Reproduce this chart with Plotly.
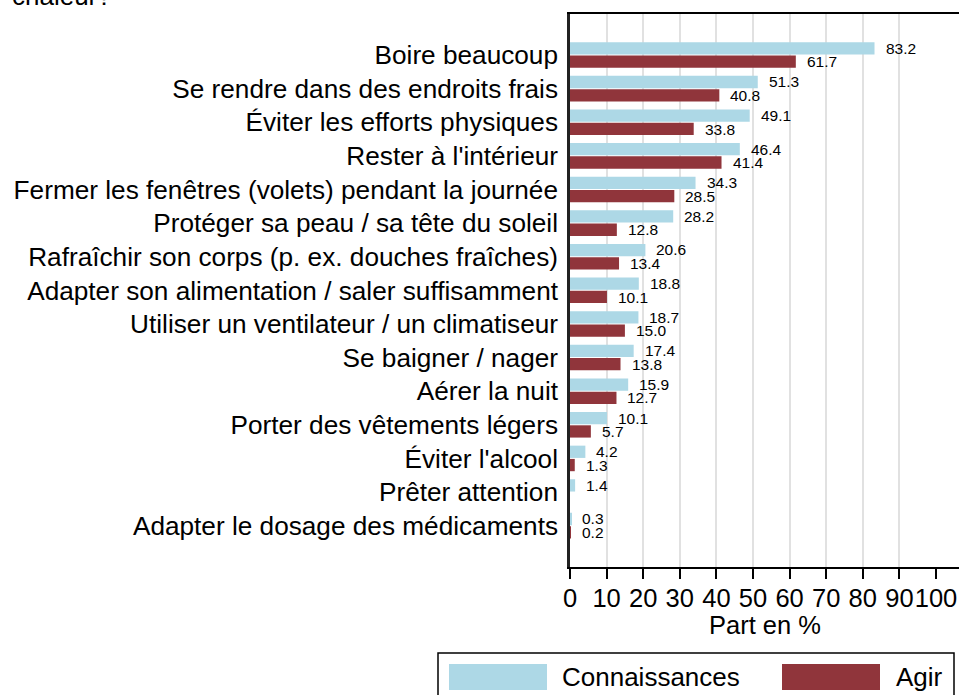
import plotly.graph_objects as go

categories = [
    "Boire beaucoup",
    "Se rendre dans des endroits frais",
    "Éviter les efforts physiques",
    "Rester à l'intérieur",
    "Fermer les fenêtres (volets) pendant la journée",
    "Protéger sa peau / sa tête du soleil",
    "Rafraîchir son corps (p. ex. douches fraîches)",
    "Adapter son alimentation / saler suffisamment",
    "Utiliser un ventilateur / un climatiseur",
    "Se baigner / nager",
    "Aérer la nuit",
    "Porter des vêtements légers",
    "Éviter l'alcool",
    "Prêter attention",
    "Adapter le dosage des médicaments",
]
connaissances = [83.2, 51.3, 49.1, 46.4, 34.3, 28.2, 20.6, 18.8, 18.7, 17.4, 15.9, 10.1, 4.2, 1.4, 0.3]
agir = [61.7, 40.8, 33.8, 41.4, 28.5, 12.8, 13.4, 10.1, 15.0, 13.8, 12.7, 5.7, 1.3, None, 0.2]
series_names = ["Connaissances", "Agir"]
x_ticks = [0, 10, 20, 30, 40, 50, 60, 70, 80, 90, 100]
grid_vals = [10, 20, 30, 40, 50, 60, 70, 80, 90]
x_title = "Part en %"
title_tail = "chaleur?"

C_BLUE = "#ADD8E6"
C_RED = "#90353B"
FONT = "Arial, Liberation Sans, sans-serif"

W, H = 959, 695
L, R, T, B = 570, 0, 14, 128
PW, PH = W - L - R, H - T - B


def px_x(px):
    return (px - L) / PW


def px_y(py):
    return (H - B - py) / PH


fig = go.Figure()
fig.add_trace(go.Bar(name=series_names[0], y=categories, x=connaissances, orientation="h",
                     marker=dict(color=C_BLUE, line=dict(width=0)), showlegend=False))
fig.add_trace(go.Bar(name=series_names[1], y=categories, x=agir, orientation="h",
                     marker=dict(color=C_RED, line=dict(width=0)), showlegend=False))

annotations = []
for vals, ysh in ((connaissances, 6.8), (agir, -6.8)):
    for cat, v in zip(categories, vals):
        if v is None:
            continue
        annotations.append(dict(x=v, y=cat, xref="x", yref="y", text=f"{v:.1f}",
                                showarrow=False, xanchor="left", yanchor="middle",
                                xshift=9, yshift=ysh,
                                font=dict(family=FONT, size=15.5, color="black")))

# title tail (cut off at top as in reference)
annotations.append(dict(x=px_x(10), y=px_y(13), xref="paper", yref="paper", text=title_tail,
                        showarrow=False, xanchor="left", yanchor="bottom",
                        font=dict(family=FONT, size=26, color="black")))

# x axis title
annotations.append(dict(x=0.5, y=px_y(625), xref="paper", yref="paper", text=x_title,
                        showarrow=False, xanchor="center", yanchor="middle",
                        font=dict(family=FONT, size=25.5, color="black")))

# manual legend
shapes = [
    dict(type="rect", xref="paper", yref="paper", x0=px_x(438), x1=px_x(954), y0=px_y(653), y1=px_y(710),
         line=dict(color="black", width=1.5), fillcolor="white", layer="above"),
    dict(type="rect", xref="paper", yref="paper", x0=px_x(449), x1=px_x(547), y0=px_y(664), y1=px_y(690),
         line=dict(width=0), fillcolor=C_BLUE, layer="above"),
    dict(type="rect", xref="paper", yref="paper", x0=px_x(782), x1=px_x(880), y0=px_y(664), y1=px_y(690),
         line=dict(width=0), fillcolor=C_RED, layer="above"),
]
annotations.append(dict(x=px_x(560), y=px_y(677), xref="paper", yref="paper", text=series_names[0],
                        showarrow=False, xanchor="left", yanchor="middle",
                        font=dict(family=FONT, size=26, color="black")))
annotations.append(dict(x=px_x(894), y=px_y(677), xref="paper", yref="paper", text=series_names[1],
                        showarrow=False, xanchor="left", yanchor="middle",
                        font=dict(family=FONT, size=26, color="black")))

n = len(categories)
fig.update_layout(
    width=W, height=H,
    margin=dict(l=L, r=R, t=T, b=B, pad=0),
    paper_bgcolor="white", plot_bgcolor="white",
    barmode="group", bargap=0.21, bargroupgap=0.075,
    font=dict(family=FONT, size=26, color="black"),
    annotations=annotations, shapes=shapes,
    xaxis=dict(range=[0, PW / 3.66], tickmode="array", tickvals=x_ticks,
               ticktext=[str(t) for t in x_ticks], showgrid=False, zeroline=False,
               showline=True, linecolor="black", linewidth=2, mirror=True,
               ticks="outside", ticklen=10, tickwidth=1.5, tickcolor="black",
               tickangle=0, automargin=False, tickfont=dict(size=25.5), ticklabelstandoff=-3,
               minor=dict(tickmode="array", tickvals=grid_vals, showgrid=True,
                          gridcolor="#E1E1E1", gridwidth=2, ticklen=0)),
    yaxis=dict(range=[n - 1 + 1.23, -1.22], showgrid=False, zeroline=False,
               showline=True, linecolor="#222222", linewidth=2.5, mirror=False,
               ticks="", ticklabelstandoff=4, automargin=False, tickfont=dict(size=26.2)),
)

fig.write_html("out.html", config={"displayModeBar": False},
               post_script="document.body.style.margin='0';document.body.style.overflow='hidden';")
